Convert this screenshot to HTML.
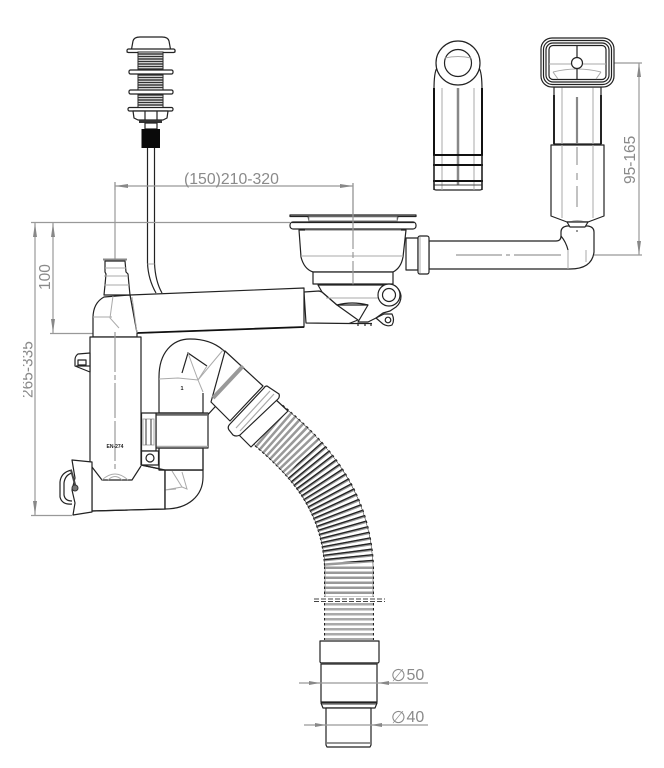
<!DOCTYPE html>
<html><head><meta charset="utf-8"><style>
html,body{margin:0;padding:0;background:#fff}
svg{display:block;filter:blur(.3px)}
text{font-family:"Liberation Sans",sans-serif;fill:#8a8a8a}
.k{fill:#fff;stroke:#222;stroke-width:1.2;stroke-linejoin:round}
.n{fill:none;stroke:#222;stroke-width:1.2}
.g{fill:none;stroke:#aaa;stroke-width:1}
.d{fill:none;stroke:#999;stroke-width:1.2}
.a{fill:#888;stroke:none}
</style></head><body>
<svg width="664" height="768" viewBox="0 0 664 768" xmlns="http://www.w3.org/2000/svg">
<defs>
<clipPath id="c"><rect x="23" y="300" width="40" height="140"/></clipPath>
<clipPath id="m"><polygon points="285,478 330,425 400,480 400,562 300,562 300,500"/></clipPath>
</defs>
<rect width="664" height="768" fill="#fff"/>

<!-- push button -->
<path class="k" d="M131,52 L133,41 Q134,37 140,37 L162,37 Q168,37 169,41 L171,52 L175,50 L175,52 L127,52 Z"/>
<rect class="k" x="127" y="49" width="48" height="3.5" rx="1.5"/>
<rect x="138" y="52" width="25" height="58" fill="#fff" stroke="#222"/>
<path d="M138,54H163M138,56.500H163M138,59H163M138,61.500H163M138,64H163M138,66.500H163M138,69H163M138,75H163M138,77.500H163M138,80H163M138,82.500H163M138,85H163M138,87.500H163M138,95H163M138,97.500H163M138,100H163M138,102.500H163M138,105H163" stroke="#333" stroke-width="1.4" fill="none"/>
<rect class="k" x="129" y="70" width="44" height="4" rx="1.500"/>
<rect class="k" x="129" y="90" width="44" height="4" rx="1.500"/>
<rect class="k" x="128" y="107.500" width="45" height="3.500" rx="1.500"/>
<path class="k" d="M133,111H168L167,118L163,120H138L134,118Z"/>
<path class="n" d="M145,111V120M157,111V120"/>
<rect x="139" y="120" width="23" height="3" fill="#333"/>
<rect class="k" x="145" y="123" width="12" height="6"/>
<rect x="141.500" y="129" width="18.500" height="19" fill="#0a0a0a"/>
<path class="n" d="M147.500,148V263C148,275 152,286 156,293M154.500,148V263C155,275 158,286 162,293"/>
<path class="g" d="M147.500,264H154.500"/>

<!-- dimensions -->
<path class="d" d="M115,186H353M115,182V337M353,183V214M31,222.500H290M35,222.500V515M53,222.500V333M31,515.500H72M50,333.500H137"/>
<path class="a" d="M115,186L128,184V188ZM353,186L340,184V188ZM35,223L33,237H37ZM53,223L51,237H55ZM35,515L33,501H37ZM53,333L51,319H55Z"/>
<text x="184" y="184" font-size="15.800">(150)210-320</text>
<text transform="translate(50,290) rotate(-90)" font-size="15.500">100</text>
<g clip-path="url(#c)"><text transform="translate(32.500,398) rotate(-90)" font-size="15.500">265-335</text></g>
<path class="d" d="M614,63H642M594,255H642M639,63V255"/>
<path class="a" d="M639,63L637,77H641ZM639,255L637,241H641Z"/>
<text transform="translate(635,184) rotate(-90)" font-size="15.500">95-165</text>

<!-- left overflow view -->
<path class="k" d="M434,188V90Q434,72 437,68L479,68Q482,72 482,90V188Q482,190 480,190H436Q434,190 434,188Z"/>
<circle class="k" cx="458" cy="63" r="22" stroke-width="1.500"/>
<circle class="k" cx="458" cy="63" r="13.500" stroke-width="1.500"/>
<path class="g" d="M445,58Q458,55 471,58M442,88V190M474,88V190"/>
<path d="M434,88V155M482,88V155" stroke="#111" stroke-width="2" fill="none"/>
<path d="M458,88V185" stroke="#888" stroke-width="2.500" fill="none"/>
<path d="M433,155H483M433,165H483M433,181H483" stroke="#111" stroke-width="2" fill="none"/>
<path d="M434,185H482" stroke="#444" stroke-width="1"/>
<path d="M434,155V190M482,155V190" stroke="#222" stroke-width="1.500" fill="none"/>

<!-- right overflow -->
<path class="k" d="M554,87V144H601V87Z"/>
<path d="M554,95V144M601,95V144" stroke="#111" stroke-width="1.800" fill="none"/>
<path class="g" d="M562,87V144M593,87V144"/>
<path d="M577,97V143" stroke="#888" stroke-width="2.200"/>
<path class="k" d="M551,145H604V216L588,222H567L551,216Z"/>
<path class="g" d="M562,145V218M593,145V218"/>
<path d="M577,147V165M577,173V180M577,186V207" stroke="#999" stroke-width="1.200" fill="none"/>
<path class="g" d="M570,222Q577,219 585,222"/>
<rect class="k" x="541" y="38" width="73" height="49" rx="11" stroke-width="1.500"/>
<rect class="n" x="543.500" y="40.500" width="68" height="44" rx="9"/>
<rect class="n" x="546" y="43" width="63" height="39" rx="7"/>
<rect class="n" x="549" y="45.500" width="57" height="34" rx="4" stroke-width="1"/>
<path class="g" d="M549,64H571M583,64H606M553,72Q577,66 601,72M558,79L553,72M596,79L601,72"/>
<path class="n" d="M577,46V57M577,69V79"/>
<circle class="k" cx="577" cy="63" r="5.500"/>

<!-- side pipe & elbow -->
<path class="k" d="M429,241H556Q561,241 561,236V232Q561,227 567,226H588Q594,227 594,232V252Q592,269 570,269H429Z"/>
<path class="k" d="M567,222H588L585,227H570Z"/>
<path class="n" d="M561,236Q566,242 568,250" stroke-width="1"/>
<path class="g" d="M568,250V269M586,250V262"/>
<path d="M456,255H502M506,255H510M514,255H561" stroke="#999" stroke-width="1.200" fill="none"/>
<circle cx="577" cy="231" r="1" fill="#777"/>

<!-- strainer -->
<path class="k" d="M406,238H418V270H406Z"/>
<rect class="k" x="418" y="236" width="11" height="38" rx="2"/>
<path class="g" d="M420,237V273"/>
<path class="k" d="M299,230L301,257Q304,269 313,272H393Q401,268 403,257L406,230Z"/>
<path class="g" d="M301,256H403M305,230H401"/>
<rect class="k" x="313" y="272" width="80" height="12"/>
<path class="k" d="M290,215H416V216.500H290Z" stroke-width="1.400"/>
<path class="n" d="M308,216L309,221H397L398,216"/>
<rect class="g" x="309" y="217" width="88" height="4" fill="#ddd"/>
<rect class="k" x="290" y="222" width="126" height="7" rx="3" stroke-width="1.400"/>
<path class="n" d="M292,222.500H414" stroke-width="2"/>
<path d="M353,183V290" stroke="#999" stroke-width="1.200" stroke-dasharray="66 3 6 3" fill="none"/>

<!-- lower drain -->
<path class="k" d="M304,292L319,291L322,292L337,305L358,320L349,323.500L306,323Z" stroke-width="1"/>
<path class="k" d="M318,285H390Q400,287 401,296Q401,303 396,307L390,311L383,313L376,318L368,322H358L368,305H337L322,292Z"/>
<path class="g" d="M326,298H378"/>
<path class="n" d="M337,305Q352,301 368,305" stroke-width=".8"/>
<circle class="k" cx="389" cy="295" r="11"/>
<circle class="k" cx="389" cy="295" r="6.500" stroke="#777" stroke-width="1.500"/>
<path class="k" d="M376,318L384,314L392,314Q395,320 392,325Q388,327 383,324Z"/>
<circle class="k" cx="388" cy="320" r="2.800" stroke-width="1.300"/>
<path class="n" d="M349,323.500H372M358,323V326M365,323V326M371,323V326" stroke-width="1.200"/>

<!-- arm -->
<path class="k" d="M130,295L304,288V327L137,333Z"/>
<path d="M137,333L304,327" stroke="#111" stroke-width="1.800" fill="none"/>
<path class="g" d="M130,296L137,333"/>
<!-- nipple & top of body -->
<path class="k" d="M93,337V318Q93,303 104,297L130,295L137,333L137,337Z"/>
<path class="g" d="M113,296L110,318L119,328M137,333L132,297M93,317H112"/>
<path class="k" d="M105,261H125L126,272L128,274L129,285L130,295H104L105,285L106,274L105,272Z" stroke-width="1"/>
<rect x="103" y="258.500" width="24" height="2" fill="#888"/>
<path class="g" d="M105,268H126M104,276H128M104,285H129"/>

<!-- trap -->
<path class="k" d="M159,413V377C159,353 172,339 190,339C204,339 215,343 223,350L247,372L203,420V413Z" stroke-width="1.300"/>
<path class="g" d="M159,379L178,378L198,380L223,350"/>
<path class="n" d="M182,373L188,353L207,366"/>
<path class="g" d="M188,353L198,380L203,392M207,366L198,380"/>
<path class="n" d="M203,393V413"/>
<text x="180.500" y="390" font-size="5.500" font-weight="bold" style="fill:#222">1</text>

<!-- hose -->
<path d="M267,424C308,458 345,498 349,565V597" fill="none" stroke="#222" stroke-width="50" stroke-dasharray="2.500 2.500"/>
<path d="M267,424C308,458 345,498 349,565V597" fill="none" stroke="#222" stroke-width="48.500"/>
<path d="M267,424C308,458 345,498 349,565V597" fill="none" stroke="#fff" stroke-width="47.500"/>
<path d="M267,424C308,458 345,498 349,565V597" fill="none" stroke="#999" stroke-width="47.500" stroke-dasharray="2.500 2.500"/>
<g clip-path="url(#m)"><path d="M267,424C308,458 345,498 349,565V597" fill="none" stroke="#222" stroke-width="47.500" stroke-dasharray="1.300 3.700"/></g>
<path d="M349,603V640" fill="none" stroke="#222" stroke-width="50" stroke-dasharray="2.500 2.500"/>
<path d="M349,603V640" fill="none" stroke="#fff" stroke-width="47.500"/>
<path d="M349,603V640" fill="none" stroke="#aaa" stroke-width="47.500" stroke-dasharray="2.500 2.500"/>
<path d="M314,599H385M314,601.500H385" stroke="#444" stroke-width="1" stroke-dasharray="5 2" fill="none"/>

<!-- cuff / elbow -->
<path class="k" d="M274,398L288,411L251,447L238,434Z"/>
<path class="k" d="M225,351L263,386L230,421L211,402Z"/>
<path d="M243,366L213,398" stroke="#999" stroke-width="4" fill="none"/>
<path class="k" d="M267,386L279,394Q280,397 278,399L240,435Q236,437 233,435L229,430Q227,427 230,424L264,388Q265,386 267,386Z"/>
<path d="M270,391L236,428M274,394L240,431" stroke="#aaa" stroke-width="1.200" fill="none"/>

<!-- main body -->
<path class="k" d="M90,337H141V465L165,470V509L92,511V467L90,465Z"/>
<path d="M92,467L102,480H132L141,466" class="n"/>
<path class="g" d="M102,480Q115,468 128,480M108,480Q115,473 122,480"/>
<path d="M115,182V190M115,332V470" stroke="#999" stroke-width="1.200" stroke-dasharray="40 3 5 3 35 3" fill="none"/>
<text x="106.500" y="448" font-size="5" font-weight="bold" style="fill:#222">EN-274</text>

<!-- lower trap -->
<path class="k" d="M159,470H203V477C203,496 188,509 165,509V470Z"/>
<path class="k" d="M159,448H203V470H159Z" stroke="none"/>
<path class="n" d="M159,449V469M203,449V470M141,465L165,470H203"/>
<path class="g" d="M165,490L182,487L172,471M182,487L187,489L182,472M165,490L176,489"/>
<path class="n" d="M165,470V509L92,511" stroke-width="1.300"/>
<path class="k" d="M156,413H208V448H156Z"/>
<path d="M156,414.500H208" stroke="#666" stroke-width="2.500"/>
<path d="M156,446.500H208" stroke="#aaa" stroke-width="1.500"/>
<!-- clamp -->
<rect class="k" x="141.500" y="413" width="14.500" height="38"/>
<rect class="g" x="143" y="419" width="11" height="26" fill="#ccc"/>
<path d="M146,419V445M151,419V445" stroke="#555" stroke-width="1.200" fill="none"/>
<rect class="k" x="141.500" y="451" width="17" height="14"/>
<circle class="k" cx="150" cy="458" r="4"/>

<!-- left tab -->
<path class="k" d="M90,353L78,354Q75,356 75,360V366L90,372Z"/>
<rect class="k" x="78" y="360" width="8" height="5"/>
<path class="n" d="M76,366H90"/>
<!-- bottom clip -->
<path class="k" d="M72,460L92,462V512L73,515L75,503L72,490L75,478Z" stroke-width="1.300"/>
<path class="n" d="M72,470Q61,472 60,482V497Q62,505 72,504M72,473Q65,475 64,483V495Q65,501 72,501"/>
<path d="M71,470L76,488" stroke="#444" stroke-width="2"/>
<circle cx="75" cy="488" r="3" fill="#777" stroke="#333"/>

<!-- bottom connector -->
<path class="k" d="M320,641H379V662L377,664H322L320,662Z" stroke-width="1.300"/>
<path d="M321,663H378" stroke="#666" stroke-width="2"/>
<path class="k" d="M321,664H377V702H321Z" stroke-width="1.300"/>
<path class="k" d="M321,703H377L375,708H323Z" stroke-width="1.200"/>
<path d="M322,704H376" stroke="#777" stroke-width="1.500"/>
<path class="k" d="M326,708H371V745L370,747H327L326,745Z" stroke-width="1.300"/>
<path d="M327,743H370" stroke="#555" stroke-width="1.200"/>
<path class="d" d="M299,683H428M304,725H428"/>
<path class="a" d="M320,683L309,681V685ZM378,683L389,681V685ZM326,725L315,723V727ZM371,725L382,723V727Z"/>
<text x="391" y="681" font-size="17">&#8709;</text>
<text x="406.500" y="680" font-size="16">50</text>
<text x="391" y="723" font-size="17">&#8709;</text>
<text x="406.500" y="722" font-size="16">40</text>
</svg>
</body></html>
